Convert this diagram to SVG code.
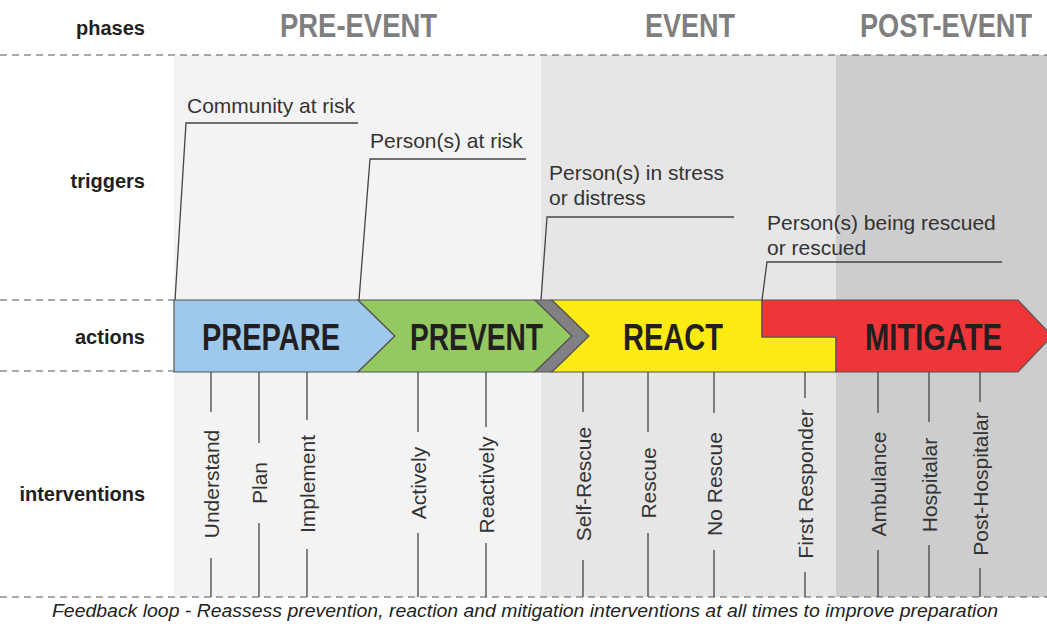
<svg xmlns="http://www.w3.org/2000/svg" width="1047" height="626" viewBox="0 0 1047 626">
<style>
.dash{stroke:#555;stroke-width:1.2;stroke-dasharray:7 5;fill:none}
.row{font-family:"Liberation Sans",Arial,sans-serif;font-weight:bold;font-size:20px;fill:#231f20;text-anchor:end}
.phase{font-family:"Liberation Sans",Arial,sans-serif;font-weight:bold;font-size:34px;fill:#7f7f7f}
.act{font-family:"Liberation Sans",Arial,sans-serif;font-weight:bold;font-size:37px;fill:#231f20}
.trg{font-family:"Liberation Sans",Arial,sans-serif;font-size:21px;fill:#333}
.iv{font-family:"Liberation Sans",Arial,sans-serif;font-size:21px;fill:#333;text-anchor:middle}
.ln{stroke:#444;stroke-width:1.3;fill:none}
.band{stroke:#555;stroke-width:1.2}
.foot{font-family:"Liberation Sans",Arial,sans-serif;font-style:italic;font-size:18px;fill:#222}
</style>
<rect width="1047" height="626" fill="#ffffff"/>
<g id="panels">
<rect x="174" y="55" width="367" height="542" fill="#f3f3f3"/>
<rect x="541" y="55" width="295" height="542" fill="#e6e6e6"/>
<rect x="836" y="55" width="211" height="542" fill="#cdcdcd"/>
</g>
<g id="gridlines">
<line class="dash" x1="0" y1="55" x2="1047" y2="55"/>
<line class="dash" x1="0" y1="300" x2="174" y2="300"/>
<line class="dash" x1="0" y1="371" x2="174" y2="371"/>
<line class="dash" x1="0" y1="597" x2="1047" y2="597"/>
</g>
<g id="row-labels">
<text class="row" x="145" y="35">phases</text>
<text class="row" x="145" y="188">triggers</text>
<text class="row" x="145" y="344">actions</text>
<text class="row" x="145" y="501">interventions</text>
</g>
<g id="phase-labels">
<text class="phase" x="280" y="37" textLength="157" lengthAdjust="spacingAndGlyphs">PRE-EVENT</text>
<text class="phase" x="645" y="37" textLength="90" lengthAdjust="spacingAndGlyphs">EVENT</text>
<text class="phase" x="860" y="37" textLength="172" lengthAdjust="spacingAndGlyphs">POST-EVENT</text>
</g>
<g id="prepare">
<path class="band" d="M174,300 L358,300 L395,336 L358,372 L174,372 Z" fill="#9fc9ec"/>
<text class="act" x="202" y="350" textLength="138" lengthAdjust="spacingAndGlyphs">PREPARE</text>
</g>
<g id="prevent">
<path class="band" d="M358,300 L535,300 L572,336 L535,372 L358,372 L395,336 Z" fill="#93c960"/>
<text class="act" x="410" y="350" textLength="133" lengthAdjust="spacingAndGlyphs">PREVENT</text>
</g>
<g id="separator">
<path class="band" d="M535,300 L552,300 L589,336 L552,372 L535,372 L572,336 Z" fill="#808082"/>
</g>
<g id="react">
<path class="band" d="M552,300 L762,300 L762,337 L836,337 L836,372 L552,372 L589,336 Z" fill="#fbeb12"/>
<text class="act" x="623" y="350" textLength="100" lengthAdjust="spacingAndGlyphs">REACT</text>
</g>
<g id="mitigate">
<path class="band" d="M762,300 L1018,300 L1052,336 L1018,372 L836,372 L836,337 L762,337 Z" fill="#ee3538"/>
<text class="act" x="865" y="350" textLength="137" lengthAdjust="spacingAndGlyphs">MITIGATE</text>
</g>
<g id="connectors">
<polyline class="ln" points="175,300 186,123 358,123"/>
<polyline class="ln" points="359,300 370,159 526,159"/>
<polyline class="ln" points="541,300 547,217 734,217"/>
<polyline class="ln" points="762,300 767,262 1002,262"/>
<line class="ln" x1="211" y1="372" x2="211" y2="412"/><line class="ln" x1="211" y1="558" x2="211" y2="597"/>
<line class="ln" x1="259" y1="372" x2="259" y2="443"/><line class="ln" x1="259" y1="523" x2="259" y2="597"/>
<line class="ln" x1="307" y1="372" x2="307" y2="420"/><line class="ln" x1="307" y1="549" x2="307" y2="597"/>
<line class="ln" x1="418" y1="372" x2="418" y2="432"/><line class="ln" x1="418" y1="533" x2="418" y2="597"/>
<line class="ln" x1="486" y1="372" x2="486" y2="427"/><line class="ln" x1="486" y1="543" x2="486" y2="597"/>
<line class="ln" x1="583" y1="372" x2="583" y2="412"/><line class="ln" x1="583" y1="560" x2="583" y2="597"/>
<line class="ln" x1="648" y1="372" x2="648" y2="432"/><line class="ln" x1="648" y1="533" x2="648" y2="597"/>
<line class="ln" x1="714" y1="372" x2="714" y2="413"/><line class="ln" x1="714" y1="550" x2="714" y2="597"/>
<line class="ln" x1="805" y1="372" x2="805" y2="398"/><line class="ln" x1="805" y1="572" x2="805" y2="597"/>
<line class="ln" x1="878" y1="372" x2="878" y2="413"/><line class="ln" x1="878" y1="550" x2="878" y2="597"/>
<line class="ln" x1="929" y1="372" x2="929" y2="422"/><line class="ln" x1="929" y1="545" x2="929" y2="597"/>
<line class="ln" x1="980" y1="372" x2="980" y2="402"/><line class="ln" x1="980" y1="568" x2="980" y2="597"/>
</g>
<g id="triggers">
<text class="trg" x="187" y="113">Community at risk</text>
<text class="trg" x="370" y="148">Person(s) at risk</text>
<text class="trg" x="549" y="180">Person(s) in stress</text>
<text class="trg" x="549" y="205">or distress</text>
<text class="trg" x="767" y="230">Person(s) being rescued</text>
<text class="trg" x="767" y="255">or rescued</text>
</g>
<g id="interventions">
<text class="iv" transform="translate(218.5,484) rotate(-90)">Understand</text>
<text class="iv" transform="translate(266.5,483) rotate(-90)">Plan</text>
<text class="iv" transform="translate(314.5,484) rotate(-90)">Implement</text>
<text class="iv" transform="translate(425.5,483) rotate(-90)">Actively</text>
<text class="iv" transform="translate(493.5,485) rotate(-90)">Reactively</text>
<text class="iv" transform="translate(590.5,484) rotate(-90)">Self-Rescue</text>
<text class="iv" transform="translate(655.5,483) rotate(-90)">Rescue</text>
<text class="iv" transform="translate(721.5,484) rotate(-90)">No Rescue</text>
<text class="iv" transform="translate(812.5,484) rotate(-90)">First Responder</text>
<text class="iv" transform="translate(885.5,484) rotate(-90)">Ambulance</text>
<text class="iv" transform="translate(936.5,485) rotate(-90)">Hospitalar</text>
<text class="iv" transform="translate(987.5,484) rotate(-90)">Post-Hospitalar</text>
</g>
<text class="foot" x="52" y="617" textLength="946" lengthAdjust="spacingAndGlyphs">Feedback loop - Reassess prevention, reaction and mitigation interventions at all times to improve preparation</text>
</svg>
